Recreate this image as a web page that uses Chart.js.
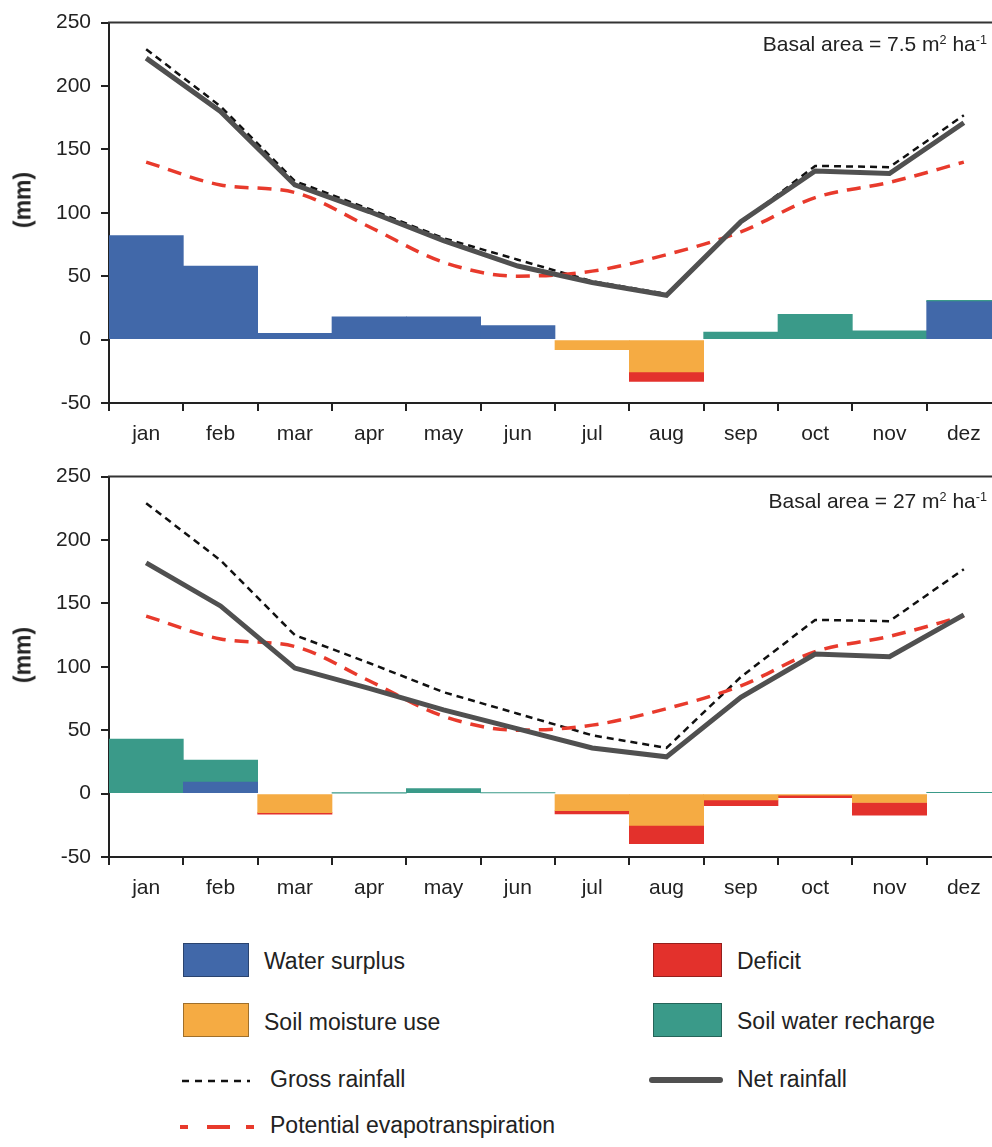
<!DOCTYPE html>
<html>
<head>
<meta charset="utf-8">
<title>Water balance</title>
<script src="https://cdn.jsdelivr.net/npm/chart.js@4.4.1/dist/chart.umd.min.js"></script>
<style>
    html, body { margin: 0; padding: 0; background: #fff; overflow: hidden; }
    body { width: 992px; height: 1147px; position: relative; font-family: "Liberation Sans", Arial, sans-serif; color: #222; }
    canvas { position: absolute; left: 0; }
    #panelTop { top: 0; }
    #panelBottom { top: 454px; }
    .ylabel { position: absolute; left: 22.5px; font-weight: bold; font-size: 23px; line-height: 1; white-space: nowrap;
              transform: translate(-50%, -50%) rotate(-90deg); }
    .basal { position: absolute; right: 5px; font-size: 21px; line-height: 1; white-space: nowrap; }
    .basal sup { font-size: 0.6em; vertical-align: 0.55em; line-height: 0; }
    .swatch { position: absolute; width: 66px; height: 34px; box-sizing: border-box; border: 1px solid rgba(0,0,0,0.35); }
    .legtext { position: absolute; font-size: 23px; line-height: 1; white-space: nowrap; }
    svg.legline { position: absolute; }
</style>
</head>
<body>
<canvas id="panelTop" width="1010" height="460"></canvas>
<canvas id="panelBottom" width="1010" height="460"></canvas>

<div class="ylabel" style="top:200px">(mm)</div>
<div class="ylabel" style="top:655px">(mm)</div>
<div class="basal" style="top:33px">Basal area = 7.5 m<sup>2</sup> ha<sup>-1</sup></div>
<div class="basal" style="top:490px">Basal area = 27 m<sup>2</sup> ha<sup>-1</sup></div>

<!-- legend -->
<div class="swatch" style="left:183px; top:943px; background:#4168a9"></div>
<div class="legtext" style="left:264px; top:950px">Water surplus</div>
<div class="swatch" style="left:183px; top:1003px; background:#f5ab43"></div>
<div class="legtext" style="left:264px; top:1011px">Soil moisture use</div>
<svg class="legline" style="left:180px; top:1071px" width="72" height="20">
    <line x1="2" y1="10" x2="70" y2="10" stroke="#111" stroke-width="2.5" stroke-dasharray="7 6"/>
</svg>
<div class="legtext" style="left:270px; top:1068px">Gross rainfall</div>
<svg class="legline" style="left:178px; top:1117px" width="80" height="20">
    <line x1="2" y1="10" x2="76" y2="10" stroke="#e83a2c" stroke-width="4" stroke-dasharray="8 19 23 16 8"/>
</svg>
<div class="legtext" style="left:270px; top:1114px">Potential evapotranspiration</div>

<div class="swatch" style="left:653px; top:943px; width:69px; background:#e3312c"></div>
<div class="legtext" style="left:737px; top:950px">Deficit</div>
<div class="swatch" style="left:653px; top:1003px; width:69px; background:#3a9a89"></div>
<div class="legtext" style="left:737px; top:1010px">Soil water recharge</div>
<svg class="legline" style="left:646px; top:1070px" width="80" height="20">
    <line x1="6" y1="10" x2="74" y2="10" stroke="#505050" stroke-width="6" stroke-linecap="round"/>
</svg>
<div class="legtext" style="left:737px; top:1068px">Net rainfall</div>

<script>
const months = ["jan", "feb", "mar", "apr", "may", "jun", "jul", "aug", "sep", "oct", "nov", "dez"];
const yTicks = [-50, 0, 50, 100, 150, 200, 250];

// same for both stands
const grossRainfall = [229, 184, 125, 103, 80, 63, 46, 36, 92, 137, 136, 177];
const potentialET = [140, 122, 116, 89, 61, 50, 54, 67, 85, 112, 124, 140];

// basal area 7.5 m2/ha (null = no bar that month)
const netRain7 = [222, 180, 122, 101, 78, 58, 45, 35, 93, 133, 131, 171];
const surplus7 = [82, 58, 5, 18, 18, 11, null, null, null, null, null, 30];
const recharge7 = [null, null, null, null, null, null, null, null, 6, 20, 7, 1];
const soilUse7 = [null, null, null, null, null, null, -8, -25.5, null, null, null, null];
const deficit7 = [null, null, null, null, null, null, null, -7.5, null, null, null, null];

// basal area 27 m2/ha
const netRain27 = [182, 148, 99, 83, 66, 51, 36, 29, 76, 110, 108, 141];
const surplus27 = [null, 9, null, null, null, null, null, null, null, null, null, null];
const recharge27 = [43, 17.5, null, 0.3, 4, 0.6, null, null, null, null, null, 1];
const soilUse27 = [null, null, -15, null, null, null, -13.5, -25, -5, -1.3, -7, null];
const deficit27 = [null, null, -1.2, null, null, null, -2.5, -14.5, -4.5, -2, -10, null];

const AXIS = "#222";
const BLUE = "#4168a9";
const TEAL = "#3a9a89";
const ORANGE = "#f5ab43";
const RED = "#e3312c";
const NET = "#505050";
const PET = "#e83a2c";

Chart.defaults.font.family = "'Liberation Sans', Arial, sans-serif";
Chart.defaults.color = AXIS;

// box line along the top of the plot
const topBorder = {
    id: "topBorder",
    afterDraw(chart) {
        const { ctx, chartArea } = chart;
        ctx.save();
        ctx.strokeStyle = "#333";
        ctx.lineWidth = 2;
        ctx.beginPath();
        ctx.moveTo(chartArea.left - 1, chartArea.top);
        ctx.lineTo(chartArea.right + 2, chartArea.top);
        ctx.stroke();
        ctx.restore();
    }
};

function makePanel(canvasId, net, surplus, recharge, soilUse, deficit) {
    const ctx = document.getElementById(canvasId);
    return new Chart(ctx, {
        type: "bar",
        data: {
            labels: months,
            datasets: [
                { type: "line", label: "Net rainfall", data: net, yAxisID: "yLine", borderColor: NET,
                  borderWidth: 5, pointRadius: 0, borderJoinStyle: "miter", order: 0 },
                { type: "line", label: "Potential evapotranspiration", data: potentialET, yAxisID: "yLine",
                  borderColor: PET, borderWidth: 3.5, borderDash: [14, 9], pointRadius: 0,
                  cubicInterpolationMode: "monotone", order: 1 },
                { type: "line", label: "Gross rainfall", data: grossRainfall, yAxisID: "yLine", borderColor: "#111",
                  borderWidth: 2.5, borderDash: [7, 5], pointRadius: 0, order: 2 },
                { label: "Water surplus", data: surplus, backgroundColor: BLUE, order: 3 },
                { label: "Soil water recharge", data: recharge, backgroundColor: TEAL, order: 3 },
                { label: "Soil moisture use", data: soilUse, backgroundColor: ORANGE, order: 3 },
                { label: "Deficit", data: deficit, backgroundColor: RED, order: 3 }
            ]
        },
        options: {
            responsive: false,
            animation: false,
            layout: { padding: { top: 19, right: 9, left: 0, bottom: 0 } },
            datasets: { bar: { barPercentage: 1, categoryPercentage: 1, borderWidth: 0 } },
            plugins: { legend: { display: false }, tooltip: { enabled: false } },
            scales: {
                x: {
                    stacked: true,
                    offset: true,
                    grid: { offset: true, drawOnChartArea: false, color: AXIS, lineWidth: 2, tickLength: 8 },
                    border: { color: AXIS, width: 2 },
                    ticks: { font: { size: 21 }, color: AXIS, padding: 11, maxRotation: 0, autoSkip: false },
                    afterFit: s => { s.height = 57; }
                },
                y: {
                    stacked: true,
                    min: yTicks[0],
                    max: yTicks[yTicks.length - 1],
                    grid: { drawOnChartArea: false, color: AXIS, lineWidth: 2, tickLength: 8 },
                    border: { color: AXIS, width: 2 },
                    ticks: { stepSize: 50, font: { size: 21 }, color: AXIS, padding: 10 },
                    afterFit: s => { s.width = 109; }
                },
                yLine: { display: false, min: yTicks[0], max: yTicks[yTicks.length - 1] }
            }
        },
        plugins: [topBorder]
    });
}

makePanel("panelTop", netRain7, surplus7, recharge7, soilUse7, deficit7);
makePanel("panelBottom", netRain27, surplus27, recharge27, soilUse27, deficit27);
</script>
</body>
</html>
